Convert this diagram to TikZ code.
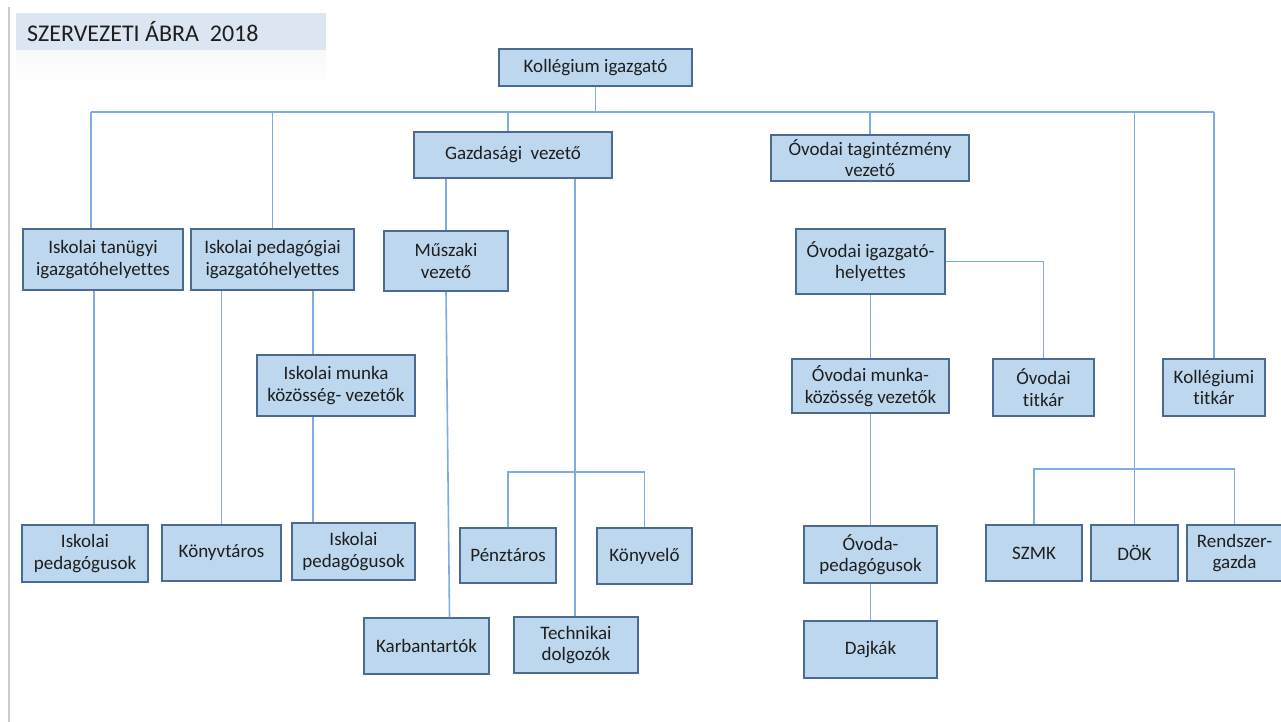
\documentclass[tikz,border=0pt]{standalone}
\usepackage{fontspec}
\setmainfont{Carlito}[Ligatures=CommonOff]
\definecolor{boxfill}{HTML}{BDD7EE}
\definecolor{boxline}{HTML}{4A6A90}
\definecolor{connline}{HTML}{7EADE0}
\definecolor{titlefill}{HTML}{DCE6F2}
\definecolor{txt}{HTML}{1E1E1E}
\tikzset{
  orgbox/.style={draw=boxline, fill=boxfill, line width=1.5pt, inner sep=0pt, align=center,
     text=txt, font=\fontsize{19}{21.5}\selectfont},
  conn/.style={draw=connline, line width=1.6pt}
}
\newcommand{\bx}[6]{\node[orgbox, minimum width={#4-#2}, minimum height={#5-#3}] (#1) at ({(#2+#4)/2},{(#3+#5)/2}) {#6};}
\begin{document}
\begin{tikzpicture}[x=1pt,y=-1pt]
\useasboundingbox (0,0) rectangle (1281,722);
\fill[white] (0,0) rectangle (1281,722);
% left rule
\draw[draw=gray!40, line width=1.5pt] (9,7) -- (9,722);
% title
\fill[titlefill] (16,13) rectangle (326,51);
\shade[top color=gray!5, bottom color=white, draw=none] (16,51) rectangle (326,90);
\node[anchor=west, text=txt, font=\fontsize{24}{28}\selectfont, inner sep=0pt] (title) at (27,32) {SZERVEZETI ÁBRA~~2018};

% boxes
\bx{kig}{499}{49}{692}{86}{Kollégium igazgató}
\bx{gaz}{414}{132}{612}{178}{Gazdasági~~vezető}
\bx{ota}{771}{135}{969}{181}{Óvodai tagintézmény\\vezető}
\bx{ita}{23}{229}{183}{290}{Iskolai tanügyi\\igazgatóhelyettes}
\bx{ipa}{191}{229}{354}{290}{Iskolai pedagógiai\\igazgatóhelyettes}
\bx{mus}{384}{231}{508}{291}{Műszaki\\vezető}
\bx{oih}{796}{229}{945}{294}{Óvodai igazgató-\\helyettes}
\bx{imk}{257}{355}{415}{416}{Iskolai munka\\közösség- vezetők}
\bx{omk}{792}{359}{949}{413}{Óvodai munka-\\közösség vezetők}
\bx{otit}{993}{359}{1094}{416}{Óvodai\\titkár}
\bx{ktit}{1163}{359}{1265}{416}{Kollégiumi\\titkár}
\bx{ip1}{22}{525}{148}{582}{Iskolai\\pedagógusok}
\bx{konyv}{162}{525}{281}{581}{Könyvtáros}
\bx{ip2}{292}{523}{415}{580}{Iskolai\\pedagógusok}
\bx{penz}{460}{528}{556}{583}{Pénztáros}
\bx{kvel}{597}{528}{692}{584}{Könyvelő}
\bx{opg}{804}{526}{937}{583}{Óvoda-\\pedagógusok}
\bx{szmk}{986}{525}{1082}{581}{SZMK}
\bx{dok}{1091}{525}{1178}{581}{DÖK}
\bx{rg}{1187}{525}{1282}{581}{Rendszer-\\gazda}
\bx{karb}{364}{618}{489}{674}{Karbantartók}
\bx{tech}{514}{617}{638}{673}{Technikai\\dolgozók}
\bx{dajk}{804}{621}{937}{678}{Dajkák}

% helper coordinates
\coordinate (busL) at (91,112);
\coordinate (busR) at (1214,112);
\coordinate (xg) at (508,0);
\coordinate (x94) at (94,0);
\coordinate (x313) at (313,0);
\coordinate (x446) at (446,0);
\coordinate (x575) at (575,0);
\coordinate (b3) at (575,472);
\coordinate (b4) at (1134,469);

% top bus
\draw[conn] (kig.south) -- (kig.south |- busL);
\draw[conn] (busL) -- (busR);
\draw[conn] (busL) -- (busL |- ita.north);
\draw[conn] (ipa.north |- busL) -- (ipa.north);
\draw[conn] (xg |- busL) -- (xg |- gaz.north);
\draw[conn] (ota.north |- busL) -- (ota.north);
\draw[conn] (dok.north |- busL) -- (dok.north);
\draw[conn] (busR) -- (ktit.north);

% school branches
\draw[conn] (x94 |- ita.south) -- (x94 |- ip1.north);
\draw[conn] (konyv.north |- ipa.south) -- (konyv.north);
\draw[conn] (x313 |- ipa.south) -- (x313 |- imk.north);
\draw[conn] (x313 |- imk.south) -- (x313 |- ip2.north);

% economic branches
\draw[conn] (x446 |- gaz.south) -- (mus.north);
\draw[conn] (x575 |- gaz.south) -- (x575 |- tech.north);
\draw[conn] (mus.south) -- ([xshift=23pt]karb.north);
\draw[conn] (penz.north) -- (penz.north |- b3) -- (kvel.north |- b3) -- (kvel.north);

% kindergarten branches
\draw[conn] (ota.south) -- (ota.south -| oih.north);
\draw[conn] (oih.south) -- (oih.south |- omk.north);
\draw[conn] (oih.east) -| (otit.north);
\draw[conn] (omk.south) -- (omk.south |- opg.north);
\draw[conn] (opg.south) -- (opg.south |- dajk.north);

% bottom right bus
\draw[conn] (szmk.north) -- (szmk.north |- b4) -- (rg.north |- b4) -- (rg.north);
\end{tikzpicture}
\end{document}
